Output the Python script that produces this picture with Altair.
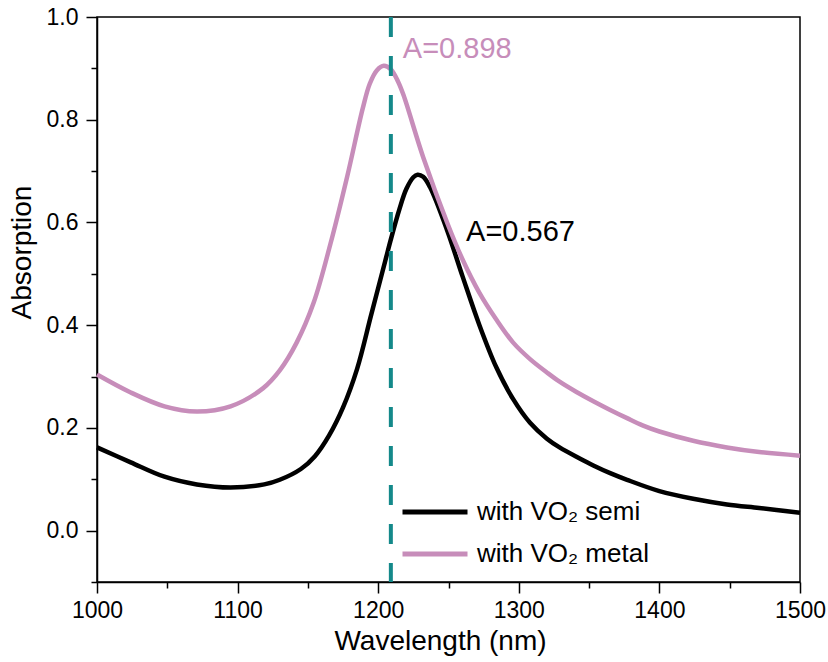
import altair as alt
import pandas as pd

# ---------------- data ----------------
series_names = ["with VO\u2082 semi", "with VO\u2082 metal"]

wl_semi = [1000, 1024, 1048, 1071, 1095, 1119, 1130, 1145, 1155, 1165, 1175, 1185,
           1195, 1205, 1209, 1215, 1220, 1225, 1228, 1232, 1237, 1249, 1260, 1272,
           1284, 1296, 1308, 1320, 1329, 1343, 1353, 1365, 1377, 1400, 1424, 1448, 1471, 1500]
abs_semi = [0.162, 0.133, 0.105, 0.090, 0.084, 0.090, 0.099, 0.120, 0.145, 0.185, 0.240, 0.315,
            0.420, 0.525, 0.567, 0.625, 0.665, 0.688, 0.693, 0.689, 0.668, 0.585, 0.495, 0.400,
            0.318, 0.256, 0.210, 0.179, 0.162, 0.141, 0.127, 0.112, 0.099, 0.077, 0.062, 0.051, 0.044, 0.035]

wl_metal = [1000, 1024, 1048, 1071, 1095, 1118, 1130, 1142, 1154, 1166, 1178, 1189,
            1194, 1199, 1204, 1209, 1214, 1218, 1232, 1249, 1260, 1272, 1284, 1296, 1308,
            1320, 1329, 1341, 1353, 1365, 1377, 1388, 1400, 1424, 1448, 1471, 1500]
abs_metal = [0.304, 0.269, 0.242, 0.232, 0.242, 0.277, 0.312, 0.366, 0.443, 0.558, 0.690, 0.822,
             0.870, 0.896, 0.905, 0.898, 0.875, 0.848, 0.727, 0.600, 0.528, 0.463, 0.411, 0.366, 0.334,
             0.308, 0.290, 0.270, 0.252, 0.235, 0.219, 0.205, 0.193, 0.175, 0.162, 0.153, 0.146]

x_ticks = [1000, 1050, 1100, 1150, 1200, 1250, 1300, 1350, 1400, 1450, 1500]
y_ticks = [-0.1, 0.0, 0.1, 0.2, 0.3, 0.4, 0.5, 0.6, 0.7, 0.8, 0.9, 1.0]
x_domain = [1000, 1500]
y_domain = [-0.1, 1.0]

marker_wl = [1209]
peak_labels = ["A=0.898", "A=0.567"]
label_wl = [1217.5, 1262.5]
label_abs = [0.937, 0.582]

# ---------------- styles ----------------
FONT = "Liberation Sans, Arial, Helvetica, sans-serif"
BLACK = "#000000"
PINK = "#C78DBA"
TEAL = "#14898A"

lines = pd.DataFrame(
    {"wl": wl_semi, "A": abs_semi, "series": series_names[0]}
)
lines = pd.concat(
    [lines, pd.DataFrame({"wl": wl_metal, "A": abs_metal, "series": series_names[1]})],
    ignore_index=True,
)
marker = pd.DataFrame({"wl": marker_wl})
ann1 = pd.DataFrame({"wl": [label_wl[0]], "A": [label_abs[0]], "t": [peak_labels[0]]})
ann2 = pd.DataFrame({"wl": [label_wl[1]], "A": [label_abs[1]], "t": [peak_labels[1]]})

x_axis = alt.Axis(
    values=x_ticks,
    title="Wavelength (nm)",
    labelExpr="datum.value % 100 != 0 ? '' : datum.label",
    format="d",
    tickSize={"condition": {"test": "datum.value % 100 != 0", "value": 6}, "value": 11},
    labelFlush=False,
    labelOverlap=False,
    grid=False,
    labelPadding=6,
    titlePadding=5,
    titleX=343,
)
y_axis = alt.Axis(
    values=y_ticks,
    title="Absorption",
    labelExpr="abs(round(datum.value * 10) % 2) == 1 ? '' : format(datum.value, '.1f')",
    tickSize={"condition": {"test": "abs(round(datum.value * 10) % 2) == 1", "value": 6}, "value": 11},
    labelFlush=False,
    labelOverlap=False,
    grid=False,
    labelPadding=8,
    titlePadding=10,
    titleY=235,
)

x_enc = alt.X("wl:Q", scale=alt.Scale(domain=x_domain, nice=False, zero=False), axis=x_axis)
y_enc = alt.Y("A:Q", scale=alt.Scale(domain=y_domain, nice=False, zero=False), axis=y_axis)

curves = alt.Chart(lines).mark_line(interpolate="catmull-rom", strokeWidth=4.5).encode(
    x=x_enc,
    y=y_enc,
    color=alt.Color(
        "series:N",
        scale=alt.Scale(domain=series_names, range=[BLACK, PINK]),
        legend=alt.Legend(
            orient="none",
            legendX=303,
            legendY=480,
            title=None,
            symbolType="stroke",
            symbolSize=4225,
            symbolStrokeWidth=5,
            clipHeight=30,
            rowPadding=12,
            labelOffset=7,
            labelFontSize=26,
            labelFont=FONT,
            labelColor=BLACK,
            labelLimit=400,
            padding=0,
        ),
    ),
    detail="series:N",
)

rule = alt.Chart(marker).mark_rule(color=TEAL, strokeWidth=4, strokeDash=[20, 19]).encode(
    x=alt.X("wl:Q")
)

t1 = alt.Chart(ann1).mark_text(align="left", baseline="middle", fontSize=29, font=FONT, color=PINK).encode(
    x="wl:Q", y="A:Q", text="t:N"
)
t2 = alt.Chart(ann2).mark_text(align="left", baseline="middle", fontSize=29, font=FONT, color=BLACK).encode(
    x="wl:Q", y="A:Q", text="t:N"
)

chart = (
    alt.layer(curves, rule, t1, t2)
    .properties(
        width=703,
        height=565,
        autosize=alt.AutoSizeParams(type="none"),
        padding={"left": 97, "top": 17, "right": 28, "bottom": 80},
        background="white",
    )
    .configure_view(stroke=BLACK, strokeWidth=1.5)
    .configure_axis(
        domainColor=BLACK,
        domainWidth=1.5,
        tickColor=BLACK,
        tickWidth=1.5,
        labelFont=FONT,
        labelFontSize=23,
        labelColor=BLACK,
        titleFont=FONT,
        titleFontSize=28,
        titleFontWeight="normal",
        titleColor=BLACK,
    )
)

chart.save("out.html", embed_options={"renderer": "svg", "actions": False})
